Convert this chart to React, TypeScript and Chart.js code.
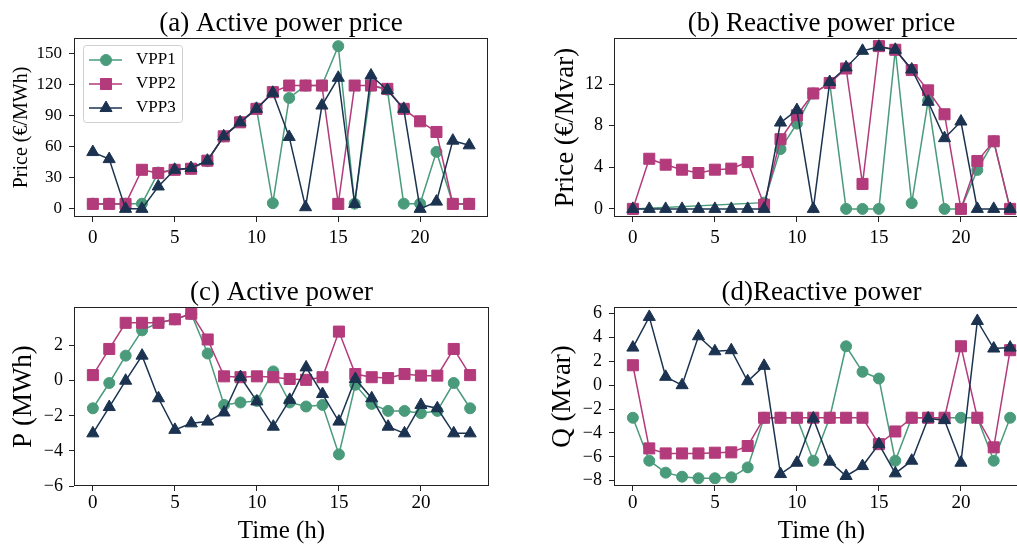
import React, { useEffect, useRef } from 'react';
import { Chart, registerables } from 'chart.js';

Chart.register(...registerables);

const FONT = '"Liberation Serif", "Times New Roman", serif';

const HOURS = [0, 1, 2, 3, 4, 5, 6, 7, 8, 9, 10, 11, 12, 13, 14, 15, 16, 17, 18, 19, 20, 21, 22, 23];
const SERIES_NAMES = ['VPP1', 'VPP2', 'VPP3'];
const X_TICKS = [0, 5, 10, 15, 20];

// (a) Active power price, €/MWh
const VPP1_P_PRICE = [5, 5, 5, 5, 35, 38, 39, 46, 70, 84, 97, 5.5, 107, 119, 119, 157, 5, 119, 115, 5, 5, 55, 5, 5];
const VPP2_P_PRICE = [4.8, 4.8, 4.8, 37.7, 34.5, 37.7, 38.7, 46.5, 70, 83.5, 96.5, 112.6, 119, 119, 119, 4.8, 119, 119, 115.8, 96.5, 84.5, 74.2, 4.8, 4.8];
const VPP3_P_PRICE = [54.8, 48, 0, 0, 21.6, 37.7, 39.4, 46.5, 70, 83.5, 96.5, 112, 69.4, 1.6, 99.7, 126.5, 4.8, 128.7, 114.5, 96.5, 0, 7, 65.8, 61.3];
const P_PRICE_TICKS = [0, 30, 60, 90, 120, 150];

// (b) Reactive power price, €/Mvar (VPP1 has no offer between hours 1 and 7)
const VPP1_Q_PRICE = [0, null, null, null, null, null, null, null, 0.6, 5.75, 8.2, 11.1, 12.1, 0, 0, 0, 15.3, 0.55, 10.4, 0, 0, 3.75, 6.5, 0];
const VPP2_Q_PRICE = [0, 4.82, 4.25, 3.77, 3.45, 3.77, 3.87, 4.5, 0.4, 6.7, 9.0, 11.1, 12.1, 13.5, 2.4, 15.65, 15.3, 13.35, 11.4, 9.1, 0, 4.6, 6.5, 0];
const VPP3_Q_PRICE = [0, 0, 0, 0, 0, 0, 0, 0, 0, 8.3, 9.5, 0, 12.2, 13.6, 15.2, 15.6, 15.3, 13.4, 10.3, 6.8, 8.4, 0, 0, 0];
const Q_PRICE_TICKS = [0, 4, 8, 12];

// (c) Active power, MWh
const VPP1_P = [-1.57, -0.13, 1.43, 2.87, 3.3, 3.5, 3.8, 1.55, -1.38, -1.24, -1.15, 0.53, -1.24, -1.47, -1.38, -4.2, -0.23, -1.32, -1.72, -1.72, -1.85, -1.72, -0.13, -1.57];
const VPP2_P = [0.32, 1.81, 3.3, 3.3, 3.3, 3.5, 3.82, 2.35, 0.25, 0.2, 0.25, 0.2, 0.1, 0.05, 0.2, 2.8, 0.38, 0.2, 0.15, 0.38, 0.29, 0.29, 1.81, 0.32];
const VPP3_P = [-3.0, -1.5, 0, 1.43, -1.0, -2.8, -2.43, -2.33, -1.81, 0.21, -1.18, -2.62, -1.09, 0.76, -0.76, -2.33, 0.1, -1.0, -2.62, -3.0, -1.38, -1.57, -3.0, -3.0];
const P_TICKS = [-6, -4, -2, 0, 2];

// (d) Reactive power, Mvar
const VPP1_Q = [-2.73, -6.33, -7.33, -7.67, -7.8, -7.8, -7.72, -6.89, -2.73, -2.73, -2.73, -6.33, -2.73, 3.26, 1.12, 0.56, -6.33, -2.73, -2.73, -2.73, -2.73, -2.73, -6.33, -2.73];
const VPP2_Q = [1.67, -5.3, -5.72, -5.72, -5.72, -5.66, -5.63, -5.1, -2.73, -2.73, -2.73, -2.73, -2.73, -2.73, -2.73, -4.94, -3.88, -2.73, -2.73, -2.73, 3.26, -2.73, -5.21, 2.93];
const VPP3_Q = [3.15, 5.72, 0.7, 0, 4.1, 2.84, 2.93, 0.33, 1.62, -7.45, -6.5, -2.79, -6.41, -7.61, -6.78, -4.94, -7.39, -6.33, -2.79, -2.93, -6.5, 5.38, 3.07, 3.15];
const Q_TICKS = [-8, -6, -4, -2, 0, 2, 4, 6];

const COLORS = ['#4a9b7b', '#b33a7b', '#1b3350'];
const POINT_STYLES = ['circle', 'rect', 'triangle'];
const POINT_RADII = [5.5, 7.8, 7];

type PanelSpec = {
  title: string;
  yLabel: string;
  yLabelSize: number;
  yLabelPad: number;
  yTickSize: number;
  yTickPad: number;
  series: (number | null)[][];
  yMin: number;
  yMax: number;
  yTicks: number[];
  left: number;
  top: number;
  width: number;
  height: number;
  yAxisWidth: number;
  xAxisHeight: number;
  titlePadTop: number;
  xTickPad: number;
  xTitle?: string;
  legend?: boolean;
};

const fmtTick = (v: number | string) => String(v).replace('-', '\u2212');

function drawMarker(ctx: CanvasRenderingContext2D, style: string, x: number, y: number, r: number) {
  ctx.beginPath();
  if (style === 'circle') {
    ctx.arc(x, y, r, 0, Math.PI * 2);
  } else if (style === 'rect') {
    const s = Math.SQRT1_2 * r;
    ctx.rect(x - s, y - s, 2 * s, 2 * s);
  } else {
    for (let k = 0; k < 3; k++) {
      const a = (k * 2 * Math.PI) / 3;
      const px = x + Math.sin(a) * r;
      const py = y - Math.cos(a) * r;
      if (k === 0) ctx.moveTo(px, py);
      else ctx.lineTo(px, py);
    }
    ctx.closePath();
  }
  ctx.fill();
  ctx.stroke();
}

const framePlugin = {
  id: 'axesFrame',
  afterDatasetsDraw(chart: any) {
    const { ctx, chartArea } = chart;
    const l = Math.round(chartArea.left) + 0.5;
    const t = Math.round(chartArea.top) + 0.5;
    const r = Math.round(chartArea.right) - 0.5;
    const b = Math.round(chartArea.bottom) - 0.5;
    ctx.save();
    ctx.strokeStyle = '#222';
    ctx.lineWidth = 1;
    ctx.strokeRect(l, t, r - l, b - t);
    ctx.restore();
  },
};

const insetLegendPlugin = {
  id: 'insetLegend',
  afterDatasetsDraw(chart: any) {
    const { ctx, chartArea } = chart;
    const bx = chartArea.left + 9;
    const by = chartArea.top + 7;
    const bw = 99;
    const bh = 77;
    ctx.save();
    ctx.beginPath();
    ctx.roundRect(bx + 0.5, by + 0.5, bw, bh, 3);
    ctx.fillStyle = 'rgba(255,255,255,0.85)';
    ctx.fill();
    ctx.strokeStyle = '#cfcfcf';
    ctx.lineWidth = 1;
    ctx.stroke();
    SERIES_NAMES.forEach((name, i) => {
      const y = by + 15 + i * 24;
      ctx.strokeStyle = COLORS[i];
      ctx.lineWidth = 1.5;
      ctx.beginPath();
      ctx.moveTo(bx + 6, y);
      ctx.lineTo(bx + 39, y);
      ctx.stroke();
      ctx.fillStyle = COLORS[i];
      ctx.lineWidth = 1;
      drawMarker(ctx, POINT_STYLES[i], bx + 23, y, POINT_RADII[i]);
      ctx.fillStyle = '#000';
      ctx.font = `17px ${FONT}`;
      ctx.textAlign = 'left';
      ctx.textBaseline = 'middle';
      ctx.fillText(name, bx + 53, y);
    });
    ctx.restore();
  },
};

function Panel({ spec }: { spec: PanelSpec }) {
  const ref = useRef<HTMLCanvasElement | null>(null);

  useEffect(() => {
    if (!ref.current) return;
    const datasets = spec.series.map((vals, i) => ({
      label: SERIES_NAMES[i],
      data: HOURS.map((h, k) => ({ x: h, y: vals[k] })),
      borderColor: COLORS[i],
      backgroundColor: COLORS[i],
      borderWidth: 1.5,
      pointStyle: POINT_STYLES[i],
      pointRadius: POINT_RADII[i],
      pointBorderWidth: 1,
      pointBackgroundColor: COLORS[i],
      pointBorderColor: COLORS[i],
      tension: 0,
      spanGaps: true,
      order: 3 - i,
      clip: false,
    }));

    const plugins: any[] = [framePlugin];
    if (spec.legend) plugins.push(insetLegendPlugin);

    const chart = new Chart(ref.current, {
      type: 'line',
      data: { datasets } as any,
      plugins,
      options: {
        animation: false,
        responsive: false,
        maintainAspectRatio: false,
        events: [],
        layout: { padding: { left: 0, right: 20, top: 0, bottom: 0 } },
        plugins: {
          legend: { display: false },
          tooltip: { enabled: false },
          title: {
            display: true,
            text: spec.title,
            color: '#000',
            fullSize: false,
            font: { family: FONT, size: 27, weight: 'normal', lineHeight: 1.06 },
            padding: { top: spec.titlePadTop, bottom: 0 },
          },
        },
        scales: {
          x: {
            type: 'linear',
            min: -1.15,
            max: 24.15,
            afterBuildTicks: (s: any) => {
              s.ticks = X_TICKS.map((v) => ({ value: v }));
            },
            afterFit: (s: any) => {
              s.height = spec.xAxisHeight;
            },
            grid: { display: true, drawOnChartArea: false, drawTicks: true, tickLength: 5, tickColor: '#222', color: '#222' },
            border: { display: false },
            ticks: { color: '#000', font: { family: FONT, size: 19 }, padding: spec.xTickPad, maxRotation: 0, callback: fmtTick },
            title: spec.xTitle
              ? {
                  display: true,
                  text: spec.xTitle,
                  color: '#000',
                  font: { family: FONT, size: 25, lineHeight: 1.2 },
                  padding: { top: 0, bottom: 4 },
                }
              : { display: false },
          },
          y: {
            type: 'linear',
            min: spec.yMin,
            max: spec.yMax,
            afterBuildTicks: (s: any) => {
              s.ticks = spec.yTicks.map((v) => ({ value: v }));
            },
            afterFit: (s: any) => {
              s.width = spec.yAxisWidth;
            },
            grid: { display: true, drawOnChartArea: false, drawTicks: true, tickLength: 5, tickColor: '#222', color: '#222' },
            border: { display: false },
            ticks: { color: '#000', font: { family: FONT, size: spec.yTickSize }, padding: spec.yTickPad, callback: fmtTick },
            title: {
              display: true,
              text: spec.yLabel,
              color: '#000',
              font: { family: FONT, size: spec.yLabelSize, lineHeight: 1.2 },
              padding: { top: spec.yLabelPad, bottom: 0 },
            },
          },
        },
      } as any,
    });
    return () => chart.destroy();
  }, [spec]);

  return (
    <canvas
      ref={ref}
      width={spec.width}
      height={spec.height}
      style={{ position: 'absolute', left: spec.left, top: spec.top, width: spec.width, height: spec.height }}
    />
  );
}

const PANELS: PanelSpec[] = [
  {
    title: '(a) Active power price',
    yLabel: 'Price (€/MWh)',
    yLabelSize: 20,
    yLabelPad: 10,
    yTickSize: 17,
    yTickPad: 7,
    series: [VPP1_P_PRICE, VPP2_P_PRICE, VPP3_P_PRICE],
    yMin: -7.85,
    yMax: 164.85,
    yTicks: P_PRICE_TICKS,
    left: 0,
    top: 0,
    width: 508,
    height: 270,
    yAxisWidth: 74,
    xAxisHeight: 53,
    titlePadTop: 9.4,
    xTickPad: 5,
    legend: true,
  },
  {
    title: '(b) Reactive power price',
    yLabel: 'Price (€/Mvar)',
    yLabelSize: 27,
    yLabelPad: 42,
    yTickSize: 18,
    yTickPad: 6,
    series: [VPP1_Q_PRICE, VPP2_Q_PRICE, VPP3_Q_PRICE],
    yMin: -0.78,
    yMax: 16.43,
    yTicks: Q_PRICE_TICKS,
    left: 508,
    top: 0,
    width: 541,
    height: 270,
    yAxisWidth: 106,
    xAxisHeight: 53,
    titlePadTop: 9.4,
    xTickPad: 5,
  },
  {
    title: '(c) Active power',
    yLabel: 'P (MWh)',
    yLabelSize: 27,
    yLabelPad: 7.8,
    yTickSize: 18,
    yTickPad: 6,
    series: [VPP1_P, VPP2_P, VPP3_P],
    yMin: -6,
    yMax: 4.2,
    yTicks: P_TICKS,
    left: 0,
    top: 270,
    width: 509,
    height: 280,
    yAxisWidth: 74,
    xAxisHeight: 64,
    titlePadTop: 8.4,
    xTickPad: 1,
    xTitle: 'Time (h)',
  },
  {
    title: '(d)Reactive power',
    yLabel: 'Q (Mvar)',
    yLabelSize: 27,
    yLabelPad: 38.8,
    yTickSize: 18,
    yTickPad: 7,
    series: [VPP1_Q, VPP2_Q, VPP3_Q],
    yMin: -8.45,
    yMax: 6.55,
    yTicks: Q_TICKS,
    left: 508,
    top: 270,
    width: 541,
    height: 280,
    yAxisWidth: 106,
    xAxisHeight: 64,
    titlePadTop: 8.4,
    xTickPad: 1,
    xTitle: 'Time (h)',
  },
];

export default function App() {
  return (
    <div
      style={{
        position: 'fixed',
        left: 0,
        top: 0,
        width: 1017,
        height: 550,
        overflow: 'hidden',
        background: '#fff',
      }}
    >
      {PANELS.map((p) => (
        <Panel key={p.title} spec={p} />
      ))}
    </div>
  );
}
